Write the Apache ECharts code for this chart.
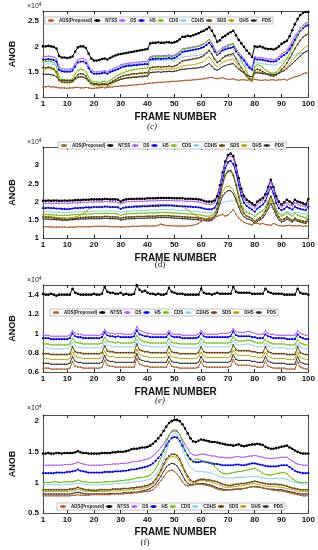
<!DOCTYPE html>
<html><head><meta charset="utf-8">
<script src="https://cdn.jsdelivr.net/npm/echarts@6/dist/echarts.min.js"></script>
<style>html,body{margin:0;padding:0;background:#fff}#c{width:318px;height:550px}</style>
</head><body><div id="c"></div>
<script>
// Series names (legend order)
const seriesNames = ['ADS(Proposed)','NTSS','DS','HS','CDS','CDHS','SDS','DHS','PDS'];
// Frame numbers (x categories)
const frames = Array.from({length:100},(_,i)=>i+1);
const xTickLabels = [1,10,20,30,40,50,60,70,80,90,100];
const captions = ['(c)','(d)','(e)','(f)'];

// ---- Panel (c): values in units of 1e4 x 100 ----
const ntss_c = [200,200,201,200,199,196,181,178,178,177,178,180,190,198,200,200,197,186,176,172,172,173,175,176,174,177,180,182,184,185,186,187,188,189,190,191,192,193,194,195,206,207,207,208,207,207,208,208,207,208,210,214,219,219,221,220,222,224,226,229,231,234,238,231,221,209,212,218,221,225,228,231,222,213,206,199,192,186,179,200,199,200,198,196,195,195,194,196,200,205,208,211,220,232,244,254,262,266,268,268];
const ds_c = [180,180,181,180,179,176,160,156,155,155,155,157,166,174,176,176,173,162,153,150,150,150,151,152,150,153,155,158,160,164,165,166,167,167,168,169,169,170,170,171,180,181,181,182,181,182,182,183,182,183,186,190,195,196,197,198,199,200,201,203,205,210,214,207,196,188,192,198,200,203,204,206,196,188,182,176,168,162,157,180,178,178,177,176,175,175,174,175,180,185,188,192,200,210,220,228,236,242,246,248];
const hs_c = [174,174,175,174,173,170,154,151,150,150,150,152,160,168,170,170,167,157,149,146,146,146,147,148,146,149,151,153,155,158,160,161,162,162,163,163,164,164,165,165,174,175,175,176,175,176,176,177,176,177,180,184,189,190,191,192,193,194,195,197,199,203,207,200,190,183,187,192,194,196,197,199,190,183,178,172,164,158,154,176,174,174,173,172,171,170,170,171,175,180,183,187,194,203,213,222,230,236,240,242];
const cds_c = [170,170,171,170,168,160,140,135,134,134,134,136,146,153,155,154,150,140,132,130,130,129,130,131,129,133,136,140,143,146,148,150,152,153,154,155,156,156,157,157,178,179,179,180,179,180,180,181,180,181,184,189,194,195,196,197,198,199,200,202,204,209,214,205,193,184,188,195,198,201,203,205,193,182,172,162,150,140,134,160,164,162,158,154,150,148,147,149,155,162,168,175,186,198,210,220,230,237,242,245];
const cdhs_c = [165,165,166,165,164,162,156,154,154,154,154,155,162,168,170,169,167,160,152,150,150,150,151,151,150,153,155,158,160,162,163,164,164,165,165,166,166,167,167,167,171,172,172,172,172,172,173,173,172,173,175,177,179,180,180,181,181,182,183,184,185,188,190,184,175,170,173,177,179,180,181,182,176,172,168,163,158,155,153,168,167,167,166,165,164,164,163,164,167,170,172,175,178,181,183,185,186,187,188,189];
const sds_c = [158,158,159,158,156,150,133,130,129,129,129,131,138,144,146,145,142,133,127,125,125,124,125,126,124,128,131,134,137,140,142,143,144,145,146,146,147,147,148,148,158,159,159,160,159,160,160,161,160,161,163,167,171,172,173,174,175,176,177,179,182,187,192,185,175,168,171,177,181,183,184,186,176,166,158,150,142,136,133,152,155,153,150,147,144,142,141,143,148,155,160,167,176,186,196,204,212,218,222,225];
const dhs_c = [155,155,156,155,153,147,131,129,128,128,128,129,134,138,140,139,136,129,124,122,122,121,122,123,121,124,127,130,132,135,137,138,139,140,140,141,141,142,142,143,153,154,154,155,154,155,155,156,155,156,157,159,161,162,163,163,164,165,166,168,170,175,180,173,164,160,163,168,171,173,174,176,168,160,152,146,139,133,130,148,150,149,147,146,145,145,144,145,148,152,155,160,166,172,178,184,190,195,199,202];
const pds_c = [145,145,145,144,143,140,134,133,133,132,132,133,136,139,140,139,137,132,128,126,126,125,126,126,125,127,129,131,133,135,136,137,138,138,139,139,140,140,141,141,148,149,149,150,149,150,150,151,150,151,152,154,155,155,156,156,157,157,158,159,160,163,166,161,155,153,156,160,162,164,165,166,160,155,151,148,144,141,140,147,148,147,146,146,145,145,144,145,147,150,152,156,161,166,171,176,181,186,190,192];
const ads_c = [120,120,121,120,120,119,118,118,118,117,118,118,119,119,118,118,119,118,117,117,118,118,119,118,119,120,120,121,121,122,122,122,123,123,124,124,125,125,126,127,127,128,128,129,129,129,130,130,131,131,131,132,132,133,133,133,134,134,135,135,136,137,138,139,137,136,137,138,136,135,135,136,134,133,134,134,133,134,133,135,134,133,133,134,133,134,134,133,134,134,135,133,136,138,140,141,143,146,148,146];

// ---- Panel (d) ----
const ntss_d = [202,202,203,202,203,203,202,202,203,202,203,203,204,204,204,205,205,205,206,206,206,206,206,207,207,206,206,206,205,200,204,206,207,207,207,208,208,208,208,209,209,209,209,210,210,210,210,210,210,209,209,209,209,208,208,208,207,207,206,205,202,200,200,200,203,215,245,280,310,328,332,325,300,265,235,215,205,200,195,190,200,205,210,220,240,260,240,215,200,192,198,205,200,195,205,200,198,195,192,207];
const ds_d = [195,195,196,195,196,196,195,195,196,195,196,196,197,197,197,198,198,198,199,199,199,199,199,200,200,199,199,199,198,194,197,199,200,200,200,201,201,201,201,202,202,202,202,203,203,203,203,203,203,202,202,202,202,201,201,201,200,200,199,198,195,193,193,193,197,210,240,275,305,322,326,318,294,258,228,208,198,193,188,182,192,198,204,214,234,255,234,208,193,185,190,197,192,188,197,193,190,188,185,199];
const hs_d = [182,182,183,182,182,181,181,180,180,179,180,181,182,182,183,183,184,184,184,185,185,185,185,186,186,185,185,185,184,180,183,184,185,185,186,186,186,187,187,187,188,188,188,188,189,189,189,189,189,188,188,187,187,187,186,186,185,185,184,183,181,179,179,179,183,195,225,260,292,308,312,303,280,245,216,197,188,183,178,172,181,186,192,202,222,240,222,196,182,176,180,186,182,178,186,182,180,178,176,186];
const cds_d = [165,165,164,164,163,163,162,162,163,162,163,164,164,165,165,165,166,166,166,167,167,167,167,168,168,167,167,167,166,162,165,166,167,167,167,168,168,168,168,169,169,169,169,170,170,170,170,170,169,169,168,168,167,167,166,166,165,165,164,163,161,160,160,162,168,185,215,250,275,285,286,275,250,220,195,178,170,168,165,158,166,170,175,185,200,215,200,180,168,160,164,170,165,160,168,163,160,158,155,165];
const cdhs_d = [172,172,172,171,171,171,170,170,170,170,170,171,171,172,172,172,173,173,173,174,174,174,174,175,175,174,174,174,173,170,172,173,174,174,175,175,175,176,176,176,177,177,177,177,178,178,178,178,177,177,176,176,176,175,175,174,174,173,172,171,170,169,169,169,172,180,190,197,200,201,202,202,200,192,183,176,172,170,166,160,168,170,172,175,180,185,180,173,168,165,168,172,170,167,172,170,168,167,165,173];
const sds_d = [158,158,157,156,155,154,153,152,152,151,152,153,154,155,156,156,157,157,158,158,158,158,158,159,159,158,158,158,157,154,156,157,158,158,158,159,159,159,159,160,160,160,160,161,161,161,161,161,160,160,159,159,158,158,157,157,156,156,155,154,152,151,151,153,160,180,212,248,272,283,285,272,245,212,185,168,160,157,153,145,150,155,162,175,195,215,195,172,158,150,152,158,153,148,155,150,148,146,144,153];
const dhs_d = [160,160,159,158,158,157,156,156,156,155,156,157,158,160,163,167,172,178,183,185,185,186,186,187,187,186,186,186,185,180,183,185,186,187,188,189,189,190,190,190,190,191,191,192,192,192,192,191,191,190,189,188,186,182,178,172,166,162,158,156,154,153,153,155,162,178,205,228,240,242,240,232,215,192,175,165,160,158,155,148,152,157,163,172,188,205,190,168,156,150,152,157,153,149,155,150,148,147,146,156];
const pds_d = [152,152,152,151,151,150,150,149,149,149,150,150,151,151,152,152,152,153,153,153,153,153,154,154,154,153,153,153,152,149,151,152,153,153,153,154,154,154,154,155,155,155,155,156,156,156,156,156,155,155,154,154,153,153,152,152,151,151,150,149,148,147,147,149,155,170,195,215,225,230,230,222,205,185,168,158,153,151,147,140,145,150,155,165,180,195,180,162,150,144,147,152,148,144,150,146,144,142,140,148];
const ads_d = [131,131,131,130,130,130,130,130,130,129,130,130,130,131,131,131,131,131,131,132,132,132,132,132,132,131,131,131,131,130,131,131,131,132,132,132,132,133,133,133,133,133,133,135,138,136,134,134,134,133,133,133,133,133,133,134,135,137,140,145,150,152,155,156,158,160,162,165,160,163,170,178,165,155,148,143,140,138,136,142,140,138,140,137,136,135,140,137,134,133,133,134,135,133,134,133,134,132,133,133];

// ---- Panel (e) ----
const ntss_e = [141,140,140,141,140,139,140,140,140,140,140,146,142,141,140,140,140,140,140,141,140,140,141,148,143,142,142,141,141,142,140,141,140,140,141,150,145,143,144,142,141,141,140,141,140,140,141,147,143,142,141,141,141,140,140,140,140,140,140,146,142,141,141,140,141,142,141,141,141,141,141,148,143,142,142,142,142,142,141,141,141,141,141,146,143,142,141,141,141,141,140,140,140,140,140,146,142,141,141,140];
const ds_e = [98,98,98,97,97,97,97,97,97,97,98,103,100,99,99,98,98,98,98,98,98,98,99,104,101,100,100,99,100,100,99,99,99,99,100,107,103,102,101,100,100,99,99,99,99,99,99,103,100,99,99,99,98,98,98,98,98,98,99,103,100,99,99,99,99,99,100,100,100,100,101,105,102,101,101,101,102,102,101,100,99,99,99,103,100,99,99,98,98,98,98,98,98,98,98,103,100,99,98,98];
const hs_e = [95,95,95,94,94,94,94,94,94,94,95,100,97,96,96,95,95,95,95,95,95,95,96,101,98,97,97,96,97,96,96,96,96,96,97,103,99,98,97,97,96,96,96,96,96,96,96,100,97,96,96,96,95,95,95,95,95,95,96,100,97,96,96,96,96,96,96,96,96,96,97,102,98,97,97,97,97,97,96,96,95,95,95,99,97,96,95,95,95,95,95,94,94,94,94,99,96,95,94,94];
const cds_e = [89,89,89,88,88,88,88,88,88,88,89,95,91,90,90,89,89,89,89,89,89,89,90,96,92,91,91,90,91,90,90,90,90,90,91,98,94,92,91,91,90,90,90,90,90,90,90,95,91,90,90,89,89,89,89,89,89,89,90,95,91,90,90,90,90,90,90,90,90,90,91,97,93,92,92,92,93,93,92,91,90,90,90,94,91,90,89,89,89,89,89,88,88,88,88,94,90,89,88,88];
const cdhs_e = [85,85,85,84,84,84,84,84,84,84,85,91,87,86,85,85,85,85,85,85,85,85,85,92,88,87,86,86,86,86,86,86,86,86,86,94,89,88,87,87,86,86,86,86,86,86,86,91,87,86,86,85,85,85,85,85,85,85,85,91,87,86,86,86,86,86,86,86,86,86,87,93,89,88,88,88,89,89,88,87,86,86,86,90,87,86,85,85,85,85,85,84,84,84,84,90,86,85,84,84];
const sds_e = [79,79,79,78,78,78,78,78,78,78,79,86,81,80,80,79,79,79,79,79,79,79,80,87,82,81,81,80,80,80,80,80,80,80,80,89,83,82,81,81,80,80,80,80,80,80,80,86,81,80,80,79,79,79,79,79,79,79,80,86,81,80,80,80,80,80,80,80,80,80,81,88,83,82,82,82,82,82,81,81,80,80,80,86,81,80,79,79,79,79,79,78,78,78,78,86,80,79,78,78];
const dhs_e = [74,74,74,73,73,73,73,73,73,73,74,81,76,75,75,74,74,74,74,74,74,74,75,82,77,76,76,75,75,75,75,75,75,75,75,84,78,77,76,76,75,75,75,75,75,75,75,81,76,75,75,74,74,74,74,74,74,74,75,81,76,75,75,75,75,75,75,75,75,75,76,83,78,77,77,77,77,77,76,76,75,75,75,81,76,75,74,74,74,74,74,73,73,73,73,81,75,74,73,73];
const pds_e = [69,69,69,68,68,68,68,68,68,68,69,76,71,70,70,69,69,69,69,69,69,69,70,77,72,71,71,70,70,70,70,70,70,70,70,79,73,72,71,71,70,70,70,70,70,70,70,76,71,70,70,69,69,69,69,69,69,69,70,76,71,70,70,70,70,70,70,70,70,70,71,78,73,72,72,72,72,72,71,71,70,70,70,76,71,70,69,69,69,69,69,68,68,68,68,76,70,69,68,68];
const ads_e = [64,64,64,63,63,63,63,63,63,63,64,71,66,65,65,64,64,64,64,64,64,64,65,72,67,66,66,65,65,65,65,65,65,65,65,74,68,67,66,66,65,65,65,65,65,65,65,71,66,65,65,64,64,64,64,64,64,64,65,71,66,65,65,65,65,65,65,65,65,65,66,73,68,67,67,67,67,67,66,66,65,65,65,71,66,65,64,64,64,64,64,63,63,63,63,71,65,64,63,63];

// ---- Panel (f) ----
const ntss_f = [147,147,148,147,147,148,148,147,148,148,148,148,149,151,149,148,148,147,147,147,147,147,148,148,148,148,149,149,150,150,150,151,152,154,155,155,156,157,157,158,160,163,167,172,177,184,191,197,200,202,202,200,195,188,180,172,167,166,168,170,169,168,167,166,166,165,164,163,162,161,161,160,161,162,160,159,160,161,162,162,163,162,161,158,156,155,155,156,157,158,159,160,157,155,152,150,148,147,147,147];
const ds_f = [128,128,128,128,128,128,128,128,129,129,129,130,131,133,131,130,129,128,128,128,128,128,128,129,129,129,130,130,130,131,131,131,132,133,134,134,135,136,137,138,140,143,147,152,157,163,170,177,182,184,183,178,170,162,155,148,145,144,145,146,146,145,144,143,143,142,141,141,140,140,140,141,142,142,141,141,142,143,143,144,143,142,141,140,139,139,139,140,140,141,141,141,138,135,132,130,129,128,128,128];
const hs_f = [115,115,115,115,115,116,116,116,116,117,117,118,119,121,119,118,117,116,116,116,116,116,116,117,117,117,117,118,118,118,119,119,120,121,121,122,123,124,125,126,128,131,135,140,145,152,160,167,172,174,173,168,160,152,144,138,134,133,133,134,134,133,132,131,130,130,129,128,128,128,128,128,129,129,128,128,129,130,131,131,130,129,128,127,126,126,126,126,127,128,128,128,125,122,119,117,116,115,115,115];
const cds_f = [100,100,100,100,101,101,100,100,101,101,101,101,102,104,102,101,101,100,100,100,100,100,100,101,101,101,101,102,102,103,103,104,104,105,106,107,108,108,109,110,112,116,122,130,140,152,165,176,184,186,185,178,166,152,142,136,135,138,138,136,134,134,133,130,126,122,118,115,114,114,115,116,117,118,118,119,120,121,122,123,121,118,115,113,112,112,113,114,115,116,116,114,110,106,103,101,100,100,100,100];
const cdhs_f = [96,96,96,96,96,96,96,96,96,97,97,97,98,99,98,97,97,96,96,96,96,96,96,97,97,97,97,98,98,99,99,99,100,100,101,101,102,102,103,104,105,108,112,118,126,136,150,165,176,180,178,168,155,142,132,125,121,118,118,118,117,117,116,115,113,111,109,108,107,107,107,107,108,108,108,108,109,109,110,110,109,108,107,107,106,106,106,106,106,107,106,105,103,101,100,99,98,97,97,97];
const sds_f = [88,88,88,88,88,88,88,88,88,88,89,89,90,92,90,89,88,88,87,87,87,88,88,88,88,88,89,89,89,89,90,90,90,91,91,92,92,93,94,95,97,100,105,112,120,130,138,143,146,146,144,138,128,118,110,104,101,102,104,105,105,104,104,103,102,101,99,97,96,95,95,96,97,97,98,98,99,100,101,102,101,100,99,98,97,97,97,97,96,96,95,94,92,91,90,89,88,88,88,88];
const dhs_f = [85,85,85,85,85,85,85,85,85,85,86,86,87,89,87,86,85,85,85,85,85,85,85,85,85,86,86,86,86,86,87,87,87,88,88,89,89,90,91,92,94,97,102,109,117,126,134,140,142,142,140,134,125,115,106,100,98,100,102,103,103,102,101,100,99,97,95,93,92,92,92,93,93,94,94,95,96,97,98,98,97,96,95,94,93,93,93,93,92,92,91,90,89,88,87,86,85,85,85,85];
const pds_f = [81,81,81,81,81,81,81,81,81,81,81,82,83,84,83,82,81,81,81,81,81,81,81,81,81,82,82,82,82,82,83,83,83,84,84,84,85,86,87,88,90,93,97,103,110,118,125,129,131,130,127,120,112,104,98,96,96,97,98,98,98,97,96,95,93,91,90,89,88,88,88,88,89,89,89,90,91,92,93,93,93,92,91,90,89,89,89,88,88,88,87,86,85,84,83,82,81,81,81,81];
const ads_f = [78,78,78,78,78,78,78,78,78,78,78,79,79,80,79,79,79,79,80,80,80,80,80,80,80,80,81,81,81,81,81,82,82,82,83,83,84,84,85,85,86,88,92,97,103,109,115,119,120,118,114,108,101,96,94,95,96,97,97,97,96,95,94,93,91,89,88,87,87,88,88,89,89,90,90,90,91,92,93,93,92,92,91,90,89,88,87,87,86,86,85,84,83,82,81,80,79,78,78,78];

// ---- styling (not data) ----
const colors = ['#b0602c','#000000','#b25cff','#0000ff','#6cc400','#86ccf2','#6a4a12','#b8a400','#333333'];
const symbols = [['circle',1.6],['circle',2.6],['circle',1.4],['circle',2.2],['circle',1.4],['none',0],['circle',2],['none',0],['circle',1.4]];
const panels = [
  {data:[ads_c,ntss_c,ds_c,hs_c,cds_c,cdhs_c,sds_c,dhs_c,pds_c], top:11, height:86, min:1, max:2.7, step:0.5, lgTop:17, lgLeft:45, capX:152, capY:127, italic:true},
  {data:[ads_d,ntss_d,ds_d,hs_d,cds_d,cdhs_d,sds_d,dhs_d,pds_d], top:147, height:91, min:1, max:3.5, step:0.5, lgTop:142, lgLeft:58, capX:160, capY:265, italic:false},
  {data:[ads_e,ntss_e,ds_e,hs_e,cds_e,cdhs_e,sds_e,dhs_e,pds_e], top:285, height:87, min:0.6, max:1.5, step:0.2, lgTop:309, lgLeft:50, capX:160, capY:401, italic:true},
  {data:[ads_f,ntss_f,ds_f,hs_f,cds_f,cdhs_f,sds_f,dhs_f,pds_f], top:415, height:98, min:0.5, max:2.1, step:0.5, lgTop:503, lgLeft:57, capX:145, capY:543, italic:false}
];

const showTick = (idx, val) => { const v = +val; return v === 1 || v % 10 === 0; };
const grid = [], xAxis = [], yAxis = [], series = [], legend = [], graphic = [];
panels.forEach((p, i) => {
  grid.push({left:25, right:9, top:p.top, height:p.height});
  const axLine = {show:true, lineStyle:{color:'#222', width:0.8}};
  xAxis.push({type:'category', data:frames, boundaryGap:false, gridIndex:i, axisLine:axLine,
    axisTick:{inside:true, length:3, interval:showTick, lineStyle:{color:'#222'}},
    axisLabel:{interval:showTick, fontSize:8, fontWeight:'bold', color:'#111', margin:3},
    name:'FRAME NUMBER', nameLocation:'middle', nameGap:i===3?14:15,
    nameTextStyle:{fontSize:10, fontWeight:'bold', color:'#111'}, splitLine:{show:false}});
  xAxis.push({type:'category', data:frames, boundaryGap:false, gridIndex:i, position:'top', axisLine:axLine,
    axisTick:{inside:true, length:3, interval:showTick, lineStyle:{color:'#222'}}, axisLabel:{show:false}});
  yAxis.push({type:'value', gridIndex:i, min:p.min, max:p.max, interval:p.step, axisLine:axLine,
    axisTick:{inside:true, length:3, lineStyle:{color:'#222'}},
    axisLabel:{fontSize:8, fontWeight:'bold', color:'#111', margin:4, showMaxLabel:false},
    name:'ANOB', nameLocation:'middle', nameGap:16, nameRotate:90,
    nameTextStyle:{fontSize:9, fontWeight:'bold', color:'#111'}, splitLine:{show:false}});
  yAxis.push({type:'value', gridIndex:i, min:p.min, max:p.max, interval:p.step, position:'right', axisLine:axLine,
    axisTick:{inside:true, length:3, lineStyle:{color:'#222'}}, axisLabel:{show:false}, splitLine:{show:false}});
  p.data.forEach((arr, k) => {
    series.push({type:'line', name:seriesNames[k], xAxisIndex:2*i, yAxisIndex:2*i,
      data:arr.map(v => v/100), symbol:symbols[k][0], symbolSize:symbols[k][1],
      showSymbol:symbols[k][0]!=='none', showAllSymbol:true,
      lineStyle:{color:colors[k], width:1}, itemStyle:{color:colors[k]}, z:k===0?3:2, animation:false});
  });
  legend.push({top:p.lgTop, left:p.lgLeft, width:300, data:seriesNames, itemWidth:6, itemHeight:4, itemGap:1,
    padding:[1,2], backgroundColor:'#fff', borderColor:'#999', borderWidth:0.6,
    textStyle:{fontSize:4.5, fontWeight:'bold', color:'#111'}, selectedMode:false});
  graphic.push({type:'text', left:27, top:p.top - (i===3?11:9), style:{
    text:'{a|×10}{b|4}', rich:{a:{fontSize:7, fill:'#222', fontFamily:'Liberation Sans'}, b:{fontSize:5, fill:'#222', verticalAlign:'top', padding:[0,0,4,0]}}}});
  graphic.push({type:'text', x:p.capX, y:p.capY, style:{text:captions[i], fontSize:9,
    fontStyle:p.italic?'italic':'normal', fontFamily:'Liberation Serif', fill:'#111', textAlign:'center', textVerticalAlign:'middle'}});
});

const chart = echarts.init(document.getElementById('c'), null, {renderer:'canvas'});
chart.setOption({backgroundColor:'#fff', animation:false, textStyle:{fontFamily:'Liberation Sans'},
  grid, xAxis, yAxis, series, legend, graphic});
</script></body></html>
